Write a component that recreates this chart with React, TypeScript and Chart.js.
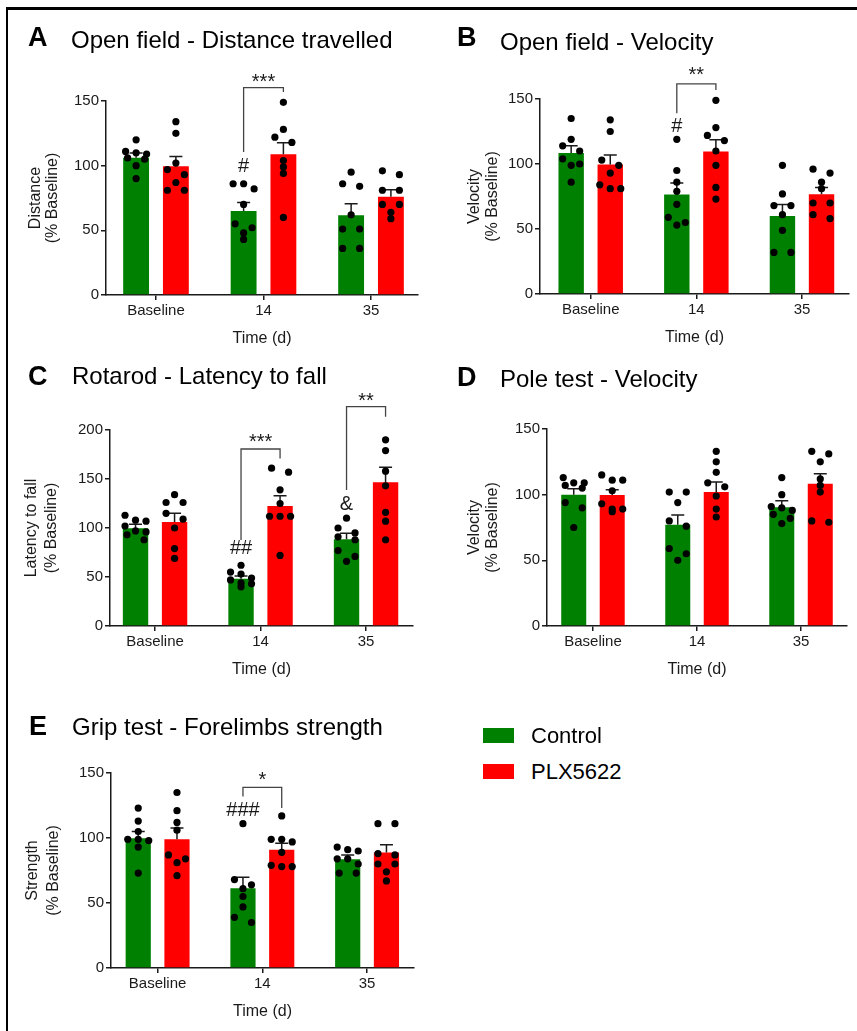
import React, { useEffect, useRef } from 'react';
import { Chart, registerables } from 'chart.js';

Chart.register(...registerables);

const FONT = "'Liberation Sans', Arial, Helvetica, sans-serif";
const INK = '#1a1a1a';
Chart.defaults.font.family = FONT;

// ---------------- shared labels ----------------
const CATEGORIES = ['Baseline', '14', '35'];
const SERIES = ['Control', 'PLX5622'];
const SERIES_COLORS = ['#008000', '#ff0000'];
const X_TITLE = 'Time (d)';

// ---------------- Panel A : Open field - Distance travelled ----------------
const A_CONTROL_MEAN = [106.2, 65, 61.6];
const A_CONTROL_SEM = [3.6, 6.6, 9];
const A_PLX_MEAN = [99.5, 108.8, 76];
const A_PLX_SEM = [7.5, 9, 5.4];
const A_CONTROL_DOTS = [
  [120, 111, 110, 109, 106, 105, 100, 90],
  [86, 86, 82, 70, 55, 52, 48, 43],
  [95, 86, 84, 62, 51, 51, 36, 36],
];
const A_PLX_DOTS = [
  [134, 125, 102, 97, 93, 87, 81, 81],
  [149, 128, 122, 118, 104, 99, 94, 60],
  [96, 93, 81, 81, 70, 70, 64, 59],
];
const A_BRACKETS = [{ cat: 1, top: 160.3, leftEnd: 110.6, rightEnd: 157, label: '***', labelY: 168 }];
const A_MARKS = [{ cat: 1, grp: 0, y: 100.3, text: '#' }];

// ---------------- Panel B : Open field - Velocity ----------------
const B_CONTROL_MEAN = [108.4, 76.5, 60];
const B_CONTROL_SEM = [5.6, 8.8, 8.8];
const B_PLX_MEAN = [99.7, 109.7, 76.8];
const B_PLX_SEM = [7.3, 9, 5.2];
const B_CONTROL_DOTS = [
  [135, 119, 114, 110, 104, 100, 99, 86],
  [119, 95, 86, 79, 69, 59, 55, 53],
  [99, 77, 68, 68, 61, 49, 32, 32],
];
const B_PLX_DOTS = [
  [134, 125, 103, 99, 93, 84, 81, 81],
  [149, 128, 122, 118, 110, 99, 82, 73],
  [96, 93, 86, 81, 70, 70, 61, 58],
];
const B_BRACKETS = [{ cat: 1, top: 161.6, leftEnd: 139, rightEnd: 157, label: '**', labelY: 171.3 }];
const B_MARKS = [{ cat: 1, grp: 0, y: 130.2, text: '#' }];

// ---------------- Panel C : Rotarod - Latency to fall ----------------
const C_CONTROL_MEAN = [99.7, 48.3, 88.4];
const C_CONTROL_SEM = [4, 2.7, 6.2];
const C_PLX_MEAN = [106, 122.4, 146.6];
const C_PLX_SEM = [9, 10.6, 15.4];
const C_CONTROL_DOTS = [
  [113, 108, 107, 102, 97, 96, 93, 88],
  [62, 55, 53, 49, 47, 44, 43, 40],
  [110, 100, 95, 91, 88, 77, 71, 66],
];
const C_PLX_DOTS = [
  [134, 126, 126, 115, 109, 100, 79, 69],
  [161, 157, 139, 125, 112, 112, 112, 72],
  [204, 190, 179, 158, 143, 116, 107, 88],
];
const C_BRACKETS = [
  { cat: 1, top: 180.6, leftEnd: 87.8, rightEnd: 171, label: '***', labelY: 192 },
  { cat: 2, top: 223.8, leftEnd: 138.8, rightEnd: 213.6, label: '**', labelY: 234 },
];
const C_MARKS = [
  { cat: 1, grp: 0, y: 80.3, text: '##' },
  { cat: 2, grp: 0, y: 125.8, text: '&' },
];

// ---------------- Panel D : Pole test - Velocity ----------------
const D_CONTROL_MEAN = [99.9, 77, 90.5];
const D_CONTROL_SEM = [4.6, 7.6, 4.8];
const D_PLX_MEAN = [99.7, 102, 108.3];
const D_PLX_SEM = [4, 7.6, 7.6];
const D_CONTROL_DOTS = [
  [113, 109, 109, 107, 105, 94, 90, 75],
  [102, 102, 94, 80, 76, 59, 55, 50],
  [113, 100, 91, 90, 88, 85, 82, 78],
];
const D_PLX_DOTS = [
  [115, 111, 111, 103, 93, 89, 89, 87],
  [133, 125, 117, 109, 106, 99, 89, 83],
  [133, 131, 125, 112, 107, 102, 80, 79],
];
const D_BRACKETS: any[] = [];
const D_MARKS: any[] = [];

// ---------------- Panel E : Grip test - Forelimbs strength ----------------
const E_CONTROL_MEAN = [99.9, 61.4, 83.7];
const E_CONTROL_SEM = [5.1, 8.5, 3.3];
const E_PLX_MEAN = [99, 91, 88.9];
const E_PLX_SEM = [8.6, 5, 5.9];
const E_CONTROL_DOTS = [
  [123, 113, 105, 99, 99, 98, 93, 73],
  [111, 68, 64, 61, 55, 47, 39, 35],
  [93, 91, 90, 84, 84, 80, 73, 73],
];
const E_PLX_DOTS = [
  [135, 121, 112, 106, 87, 84, 81, 71],
  [117, 99, 99, 97, 89, 79, 78, 78],
  [111, 111, 88, 87, 80, 80, 74, 67],
];
const E_BRACKETS = [{ cat: 1, top: 139, leftEnd: 132, rightEnd: 123, label: '*', labelY: 147.4 }];
const E_MARKS = [{ cat: 1, grp: 0, y: 122, text: '###' }];

// ---------------- layout (page pixel positions of each plot area) ----------------
const A_LAYOUT = { left: 106, right: 418, top: 101, bottom: 295, xMin: -0.465, xMax: 2.437, yTitleX: 36, yTitleLH: 17, letterX: 28, letterY: 37.5, titleX: 71, titleY: 39.5 };
const B_LAYOUT = { left: 540, right: 849, top: 99, bottom: 294, xMin: -0.48, xMax: 2.445, yTitleX: 475, yTitleLH: 18, letterX: 457, letterY: 36.7, titleX: 500, titleY: 41.5 };
const C_LAYOUT = { left: 110, right: 413, top: 430, bottom: 626, xMin: -0.427, xMax: 2.445, yTitleX: 31.7, yTitleLH: 20, letterX: 28, letterY: 376, titleX: 72, titleY: 376 };
const D_LAYOUT = { left: 547, right: 847, top: 429, bottom: 626, xMin: -0.442, xMax: 2.442, yTitleX: 475, yTitleLH: 18, letterX: 457, letterY: 377, titleX: 500, titleY: 378.5 };
const E_LAYOUT = { left: 111, right: 414, top: 773, bottom: 968, xMin: -0.445, xMax: 2.448, yTitleX: 32.3, yTitleLH: 21, letterX: 29, letterY: 726, titleX: 72, titleY: 726.5 };

const PANELS = [
  { id: 'A', title: 'Open field - Distance travelled', yTitle: ['Distance', '(% Baseline)'], yMax: 150,
    groups: [{ mean: A_CONTROL_MEAN, sem: A_CONTROL_SEM, dots: A_CONTROL_DOTS }, { mean: A_PLX_MEAN, sem: A_PLX_SEM, dots: A_PLX_DOTS }],
    brackets: A_BRACKETS, marks: A_MARKS, layout: A_LAYOUT },
  { id: 'B', title: 'Open field - Velocity', yTitle: ['Velocity', '(% Baseline)'], yMax: 150,
    groups: [{ mean: B_CONTROL_MEAN, sem: B_CONTROL_SEM, dots: B_CONTROL_DOTS }, { mean: B_PLX_MEAN, sem: B_PLX_SEM, dots: B_PLX_DOTS }],
    brackets: B_BRACKETS, marks: B_MARKS, layout: B_LAYOUT },
  { id: 'C', title: 'Rotarod - Latency to fall', yTitle: ['Latency to fall', '(% Baseline)'], yMax: 200,
    groups: [{ mean: C_CONTROL_MEAN, sem: C_CONTROL_SEM, dots: C_CONTROL_DOTS }, { mean: C_PLX_MEAN, sem: C_PLX_SEM, dots: C_PLX_DOTS }],
    brackets: C_BRACKETS, marks: C_MARKS, layout: C_LAYOUT },
  { id: 'D', title: 'Pole test - Velocity', yTitle: ['Velocity', '(% Baseline)'], yMax: 150,
    groups: [{ mean: D_CONTROL_MEAN, sem: D_CONTROL_SEM, dots: D_CONTROL_DOTS }, { mean: D_PLX_MEAN, sem: D_PLX_SEM, dots: D_PLX_DOTS }],
    brackets: D_BRACKETS, marks: D_MARKS, layout: D_LAYOUT },
  { id: 'E', title: 'Grip test - Forelimbs strength', yTitle: ['Strength', '(% Baseline)'], yMax: 150,
    groups: [{ mean: E_CONTROL_MEAN, sem: E_CONTROL_SEM, dots: E_CONTROL_DOTS }, { mean: E_PLX_MEAN, sem: E_PLX_SEM, dots: E_PLX_DOTS }],
    brackets: E_BRACKETS, marks: E_MARKS, layout: E_LAYOUT },
];

const YW = 95; // y-axis box width
const XH = 62; // x-axis box height
const PT = 70; // room above plot for annotations
const PR = 6;
const CAT_PCT = 0.74;
const BAR_PCT = 0.65;
const GROUP_OFF = CAT_PCT / 4;

// GraphPad-like arrangement of dots: rows of close values spread sideways (pixels)
function swarmOffsets(vals: number[], pxPerY: number): number[] {
  const order = vals.map((_, i) => i).sort((a, b) => vals[b] - vals[a]);
  const out = new Array(vals.length).fill(0);
  let row: number[] = [];
  const flush = () => {
    const n = row.length;
    const step = n === 2 ? 17 : 10.5;
    row.forEach((i, j) => { out[i] = (j - (n - 1) / 2) * step; });
    row = [];
  };
  order.forEach((i) => {
    if (row.length && (vals[row[0]] - vals[i]) * pxPerY > 6) flush();
    row.push(i);
  });
  flush();
  return out;
}

function drawCenteredText(ctx: CanvasRenderingContext2D, text: string, x: number, y: number) {
  ctx.textAlign = 'center';
  ctx.textBaseline = 'alphabetic';
  const m = ctx.measureText(text);
  ctx.fillText(text, x, y + (m.actualBoundingBoxAscent - m.actualBoundingBoxDescent) / 2);
}

function Panel({ p }: { p: any }) {
  const ref = useRef<HTMLCanvasElement>(null);
  const lay = p.layout;
  const L = lay.left, R = lay.right, T = lay.top, B = lay.bottom;
  const W = R - L + YW + PR;
  const H = B - T + PT + XH;

  useEffect(() => {
    const s = (R - L) / (lay.xMax - lay.xMin);
    const pxPerY = (B - T) / p.yMax;
    const datasets: any[] = [];
    p.groups.forEach((g: any, gi: number) => {
      datasets.push({
        type: 'bar',
        label: SERIES[gi],
        data: CATEGORIES.map((_, i) => ({ x: i, y: g.mean[i] })),
        backgroundColor: SERIES_COLORS[gi],
        borderWidth: 0,
        categoryPercentage: CAT_PCT,
        barPercentage: BAR_PCT,
        order: 2,
        sem: g.sem,
      });
    });
    p.groups.forEach((g: any, gi: number) => {
      const pts: any[] = [];
      g.dots.forEach((vals: number[], ci: number) => {
        const offs = swarmOffsets(vals, pxPerY);
        vals.forEach((v, k) => pts.push({ x: ci + (gi ? 1 : -1) * GROUP_OFF + offs[k] / s, y: v }));
      });
      datasets.push({
        type: 'scatter',
        label: SERIES[gi] + ' points',
        data: pts,
        pointRadius: 3.6,
        pointHoverRadius: 3.6,
        pointBackgroundColor: '#000',
        pointBorderWidth: 0,
        order: 1,
        clip: false,
      });
    });

    const errorBars = {
      id: 'semBars',
      afterDatasetDraw(chart: any, args: any) {
        const ds = chart.data.datasets[args.index];
        if (!ds.sem) return;
        const ys = chart.scales.y;
        const ctx = chart.ctx;
        ctx.save();
        ctx.strokeStyle = INK;
        ctx.lineWidth = 1.5;
        args.meta.data.forEach((el: any, i: number) => {
          const top = ys.getPixelForValue(ds.data[i].y + ds.sem[i]);
          ctx.beginPath();
          ctx.moveTo(el.x, el.y);
          ctx.lineTo(el.x, top);
          ctx.moveTo(el.x - 6.5, top);
          ctx.lineTo(el.x + 6.5, top);
          ctx.stroke();
        });
        ctx.restore();
      },
    };

    const annotations = {
      id: 'annotations',
      afterDraw(chart: any) {
        const ctx = chart.ctx;
        const xs = chart.scales.x;
        const ys = chart.scales.y;
        const gx = (cat: number, grp: number) => xs.getPixelForValue(cat + (grp ? 1 : -1) * GROUP_OFF);
        ctx.save();
        ctx.strokeStyle = '#444';
        ctx.lineWidth = 1.3;
        ctx.fillStyle = INK;
        ctx.font = `20px ${FONT}`;
        p.brackets.forEach((b: any) => {
          const x1 = gx(b.cat, 0), x2 = gx(b.cat, 1);
          ctx.beginPath();
          ctx.moveTo(x1, ys.getPixelForValue(b.leftEnd));
          ctx.lineTo(x1, ys.getPixelForValue(b.top));
          ctx.lineTo(x2, ys.getPixelForValue(b.top));
          ctx.lineTo(x2, ys.getPixelForValue(b.rightEnd));
          ctx.stroke();
          drawCenteredText(ctx, b.label, (x1 + x2) / 2, ys.getPixelForValue(b.labelY));
        });
        p.marks.forEach((m: any) => {
          drawCenteredText(ctx, m.text, gx(m.cat, m.grp), ys.getPixelForValue(m.y));
        });
        ctx.restore();
      },
    };

    const yTitlePad = lay.yTitleX - (L - YW) - lay.yTitleLH / 2;
    const xTitleLH = 16 * 1.15;

    const chart = new Chart(ref.current as HTMLCanvasElement, {
      type: 'bar',
      data: { datasets },
      options: {
        animation: false,
        responsive: false,
        devicePixelRatio: 1,
        events: [],
        layout: { padding: { top: PT, right: PR, bottom: 0, left: 0 } },
        plugins: { legend: { display: false }, tooltip: { enabled: false }, title: { display: false } },
        scales: {
          x: {
            type: 'linear',
            min: lay.xMin,
            max: lay.xMax,
            bounds: 'data',
            offset: false,
            grid: { drawOnChartArea: false, drawTicks: true, tickLength: 5, color: INK, lineWidth: 1.5, offset: false },
            border: { display: true, color: INK, width: 1.5 },
            ticks: {
              color: INK,
              font: { family: FONT, size: 15 },
              padding: 2,
              maxRotation: 0,
              autoSkip: false,
              callback: (v: any) => CATEGORIES[v] ?? '',
            },
            afterBuildTicks: (sc: any) => { sc.ticks = CATEGORIES.map((_, i) => ({ value: i })); },
            title: {
              display: true,
              text: X_TITLE,
              color: INK,
              font: { family: FONT, size: 16, lineHeight: 1.15 },
              padding: { top: 0, bottom: XH - 44 - xTitleLH / 2 },
            },
            afterFit: (sc: any) => { sc.height = XH; },
          } as any,
          y: {
            type: 'linear',
            min: 0,
            max: p.yMax,
            grid: { drawOnChartArea: false, drawTicks: true, tickLength: 5, color: INK, lineWidth: 1.5 },
            border: { display: true, color: INK, width: 1.5 },
            ticks: { stepSize: 50, color: INK, font: { family: FONT, size: 15 }, padding: 2 },
            title: {
              display: true,
              text: p.yTitle,
              color: INK,
              font: { family: FONT, size: 16, lineHeight: lay.yTitleLH / 16 },
              padding: { top: yTitlePad, bottom: 0 },
            },
            afterFit: (sc: any) => { sc.width = YW; },
          } as any,
        },
      },
      plugins: [errorBars, annotations],
    } as any);
    return () => chart.destroy();
  }, []);

  const capTop = (center: number, size: number) => center - 0.4885 * size;

  return (
    <>
      <canvas
        ref={ref}
        width={W}
        height={H}
        style={{ position: 'absolute', left: L - YW, top: T - PT, width: W, height: H }}
      />
      <div style={{ position: 'absolute', left: lay.letterX, top: capTop(lay.letterY, 27), fontSize: 27, lineHeight: 1, fontWeight: 'bold', color: '#000', whiteSpace: 'nowrap' }}>
        {p.id}
      </div>
      <div style={{ position: 'absolute', left: lay.titleX, top: capTop(lay.titleY, 24), fontSize: 24, lineHeight: 1, color: '#000', whiteSpace: 'nowrap' }}>
        {p.title}
      </div>
    </>
  );
}

export default function App() {
  const legendTop = [728, 764];
  return (
    <div style={{ position: 'absolute', left: 0, top: 0, width: 857, height: 1031, overflow: 'hidden', background: '#fff', fontFamily: FONT }}>
      <div style={{ position: 'absolute', left: 6, top: 7, width: 851, height: 3, background: '#000' }} />
      <div style={{ position: 'absolute', left: 6, top: 7, width: 2, height: 1024, background: '#000' }} />
      {PANELS.map((p) => <Panel key={p.id} p={p} />)}
      {SERIES.map((name, i) => (
        <React.Fragment key={name}>
          <div style={{ position: 'absolute', left: 483, top: legendTop[i], width: 31, height: 15, background: SERIES_COLORS[i] }} />
          <div style={{ position: 'absolute', left: 531, top: legendTop[i] + 7.5 - 0.4885 * 22, fontSize: 22, lineHeight: 1, color: '#000', whiteSpace: 'nowrap' }}>
            {name}
          </div>
        </React.Fragment>
      ))}
    </div>
  );
}
